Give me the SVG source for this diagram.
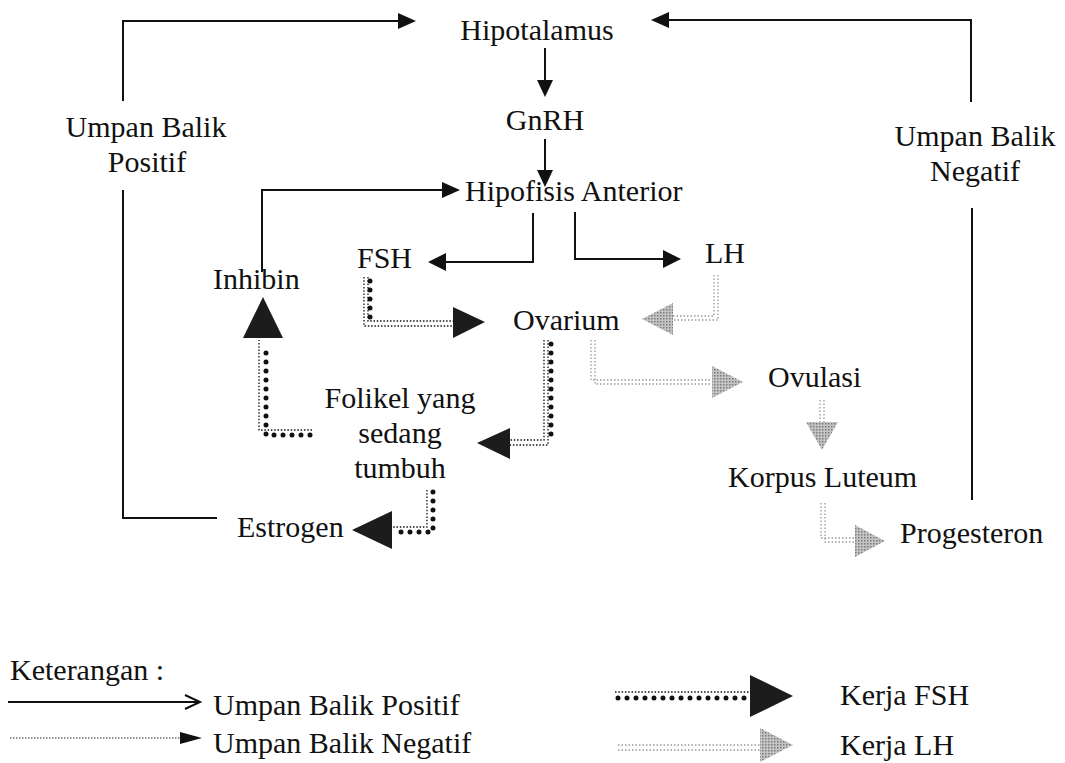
<svg xmlns="http://www.w3.org/2000/svg" width="1065" height="763" viewBox="0 0 1065 763">
<style>
text{font-family:"Liberation Serif","Times New Roman",serif;font-size:30px;fill:#111}
.c{text-anchor:middle}
.ln{fill:none;stroke:#111;stroke-width:2}
.ah{fill:#111;stroke:none}
.th{fill:none;stroke:#111;stroke-width:1.3;stroke-dasharray:1.5 1.8}
.bd{fill:none;stroke:#111;stroke-width:5;stroke-dasharray:0 9;stroke-linecap:round}
.fa{fill:#1c1c1c;stroke:none}
.gl{fill:none;stroke:#9a9a9a;stroke-width:1.3;stroke-dasharray:1.5 2}
.ga{fill:url(#stip);stroke:none}
</style>
<defs>
<pattern id="stip" width="3" height="3" patternUnits="userSpaceOnUse">
<rect width="3" height="3" fill="#c4c4c4"/>
<rect width="1.5" height="1.5" fill="#7a7a7a"/>
</pattern>
</defs>
<rect width="1065" height="763" fill="#fff"/>
<g id="connectors">
<polyline class="ln" points="123,101 123,21 400,21"/>
<polygon class="ah" points="398,13 416,21 398,29"/>
<polyline class="ln" points="971,102 971,20 668,20"/>
<polygon class="ah" points="669,12 651,20 669,28"/>
<line class="ln" x1="545" y1="48" x2="545" y2="82"/>
<polygon class="ah" points="537,80 545,97 553,80"/>
<line class="ln" x1="545" y1="139" x2="545" y2="172"/>
<polygon class="ah" points="537,170 545,187 553,170"/>
<polyline class="ln" points="123,190 123,518 217,518"/>
<line class="ln" x1="972" y1="208" x2="972" y2="500"/>
<polyline class="ln" points="262,272 262,190 444,190"/>
<polygon class="ah" points="442,182 460,190 442,198"/>
<polyline class="ln" points="533,213 533,262 444,262"/>
<polygon class="ah" points="446,253 428,262 446,271"/>
<polyline class="ln" points="575,212 575,259 665,259"/>
<polygon class="ah" points="663,250 681,259 663,268"/>
<path class="th" d="M364,277 V326 H455"/>
<path class="th" d="M368,277 V321 H455"/>
<path class="bd" d="M370,281 V318"/>
<polygon class="fa" points="453,307 485,322 453,338"/>
<path class="th" d="M544,340 V440 H510"/>
<path class="th" d="M548,340 V445 H510"/>
<path class="bd" d="M551,344 V440"/>
<polygon class="fa" points="510,428 477,443 510,459"/>
<path class="th" d="M312,430 H259 V340"/>
<path class="bd" d="M310,435 H266 V345"/>
<polygon class="fa" points="243,338 263,297 283,338"/>
<path class="th" d="M427,490 V527 H392"/>
<path class="bd" d="M433,492 V532 H396"/>
<polygon class="fa" points="392,511 352,530 392,549"/>
<path class="gl" d="M714,275 V316 H673"/>
<path class="gl" d="M718,275 V320 H673"/>
<polygon class="ga" points="673,303 642,319 673,335"/>
<path class="gl" d="M591,340 V380 H712"/>
<path class="gl" d="M595,340 V384 H712"/>
<polygon class="ga" points="712,366 743,382 712,398"/>
<path class="gl" d="M820,400 V422"/>
<path class="gl" d="M824,400 V422"/>
<polygon class="ga" points="806,422 822,450 838,422"/>
<path class="gl" d="M821,503 V538 H855"/>
<path class="gl" d="M825,503 V542 H855"/>
<polygon class="ga" points="855,525 885,541 855,557"/>
</g>
<g id="hipotalamus"><text class="c" x="537" y="40">Hipotalamus</text></g>
<g id="gnrh"><text class="c" x="545" y="130">GnRH</text></g>
<g id="hipofisis"><text x="465" y="201">Hipofisis Anterior</text></g>
<g id="umpan-positif"><text class="c" x="146" y="137">Umpan Balik</text><text class="c" x="147" y="172">Positif</text></g>
<g id="umpan-negatif"><text class="c" x="975" y="146">Umpan Balik</text><text class="c" x="975" y="181">Negatif</text></g>
<g id="fsh"><text x="357" y="268">FSH</text></g>
<g id="lh"><text x="705" y="263">LH</text></g>
<g id="inhibin"><text x="213" y="289">Inhibin</text></g>
<g id="ovarium"><text x="513" y="330">Ovarium</text></g>
<g id="ovulasi"><text x="768" y="387">Ovulasi</text></g>
<g id="folikel"><text class="c" x="400" y="408">Folikel yang</text><text class="c" x="400" y="443">sedang</text><text class="c" x="400" y="478">tumbuh</text></g>
<g id="korpus"><text x="728" y="487">Korpus Luteum</text></g>
<g id="estrogen"><text x="237" y="537">Estrogen</text></g>
<g id="progesteron"><text x="900" y="543">Progesteron</text></g>
<g id="legend">
<text x="10" y="680">Keterangan :</text>
<line class="ln" x1="8" y1="702" x2="199" y2="702"/>
<polyline class="ln" points="185,695 200,702 185,709"/>
<text x="213" y="715">Umpan Balik Positif</text>
<line x1="10" y1="738" x2="182" y2="738" stroke="#222" stroke-width="1.2" stroke-dasharray="1.5 1.5"/>
<polygon class="ah" points="180,732 202,738 180,744"/>
<text x="213" y="753">Umpan Balik Negatif</text>
<line class="th" x1="615" y1="692" x2="752" y2="692"/>
<line class="bd" x1="618" y1="698" x2="752" y2="698"/>
<polygon class="fa" points="750,675 793,696 750,717"/>
<text x="840" y="705">Kerja FSH</text>
<line class="gl" x1="618" y1="745" x2="760" y2="745"/>
<line class="gl" x1="618" y1="750" x2="760" y2="750"/>
<polygon class="ga" points="760,728 793,745 760,762"/>
<text x="840" y="755">Kerja LH</text>
</g>
</svg>
